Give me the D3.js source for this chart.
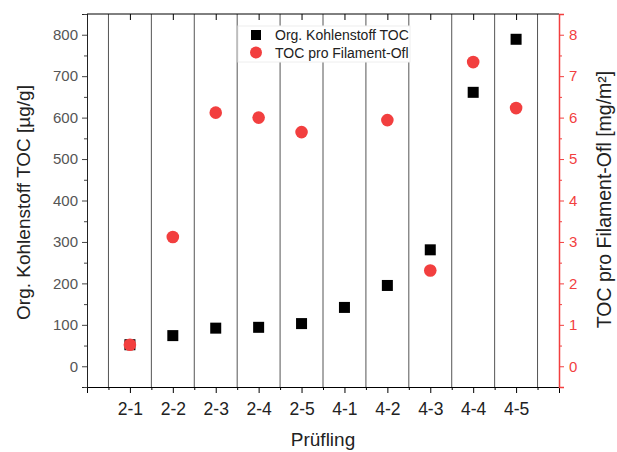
<!DOCTYPE html>
<html>
<head>
<meta charset="utf-8">
<script src="https://cdn.jsdelivr.net/npm/d3@7"></script>
<style>
body { margin: 0; background: #fff; }
svg { font-family: Arial, "Liberation Sans", sans-serif; }
</style>
</head>
<body>
<script>
(function(){

// categories and values
var samples = ["2-1", "2-2", "2-3", "2-4", "2-5", "4-1", "4-2", "4-3", "4-4", "4-5"];
var tocValues = [52, 74, 92, 94, 103, 142, 195, 281, 661, 789];          // µg/g
var surfaceValues = [0.52, 3.12, 6.12, 6.0, 5.65, null, 5.94, 2.31, 7.34, 6.23]; // mg/m²
var leftTicks = [0, 100, 200, 300, 400, 500, 600, 700, 800];
var rightTicks = [0, 1, 2, 3, 4, 5, 6, 7, 8];

var width = 617, height = 452;
var left = 87, right = 559, top = 14, bottom = 387;
var red = "#f23f3f";

var svg = d3.select("body").append("svg")
    .attr("width", width)
    .attr("height", height);

// scales
var x = d3.scaleLinear().domain([0, 11]).range([left, right]);
var yL = d3.scaleLinear().domain([-50, 850]).range([bottom, top]);
var yR = d3.scaleLinear().domain([-0.5, 8.5]).range([bottom, top]);

// vertical separators between samples
svg.append("g").selectAll("line")
    .data(d3.range(0.5, 11, 1))
    .enter().append("line")
    .attr("x1", function(d){ return x(d); })
    .attr("x2", function(d){ return x(d); })
    .attr("y1", top)
    .attr("y2", bottom)
    .attr("stroke", "#555")
    .attr("stroke-width", 1);

// bottom axis
var xAxis = d3.axisBottom(x)
    .tickValues(d3.range(0, 12, 1))
    .tickSize(6)
    .tickFormat(function(d){ return (d >= 1 && d <= 10) ? samples[d - 1] : ""; });
var gx = svg.append("g")
    .attr("transform", "translate(0," + bottom + ")")
    .call(xAxis);
gx.select(".domain").attr("stroke", "#000");
gx.selectAll(".tick line").attr("stroke", "#000");
gx.selectAll("text").attr("font-size", 17.5).attr("fill", "#222").attr("dy", "1.1em");
// minor ticks bottom
svg.append("g")
    .attr("transform", "translate(0," + bottom + ")")
    .call(d3.axisBottom(x).tickValues(d3.range(0.5, 11, 1)).tickSize(3).tickFormat(""))
    .call(function(g){ g.select(".domain").remove(); });

// top border with inward ticks
var gt = svg.append("g")
    .attr("transform", "translate(0," + top + ")")
    .call(d3.axisBottom(x).tickValues(d3.range(0, 12, 1)).tickSize(6).tickFormat(""));
gt.select(".domain").remove();
svg.append("line")
    .attr("x1", left).attr("x2", right)
    .attr("y1", top).attr("y2", top)
    .attr("stroke", "#000");

// left axis
var gl = svg.append("g")
    .attr("transform", "translate(" + left + ",0)")
    .call(d3.axisLeft(yL).tickValues(leftTicks).tickSize(5).tickPadding(4));
gl.select(".domain").attr("stroke", "#222");
gl.selectAll(".tick line").attr("stroke", "#444");
gl.selectAll("text").attr("font-size", 15).attr("fill", "#555");
svg.append("g")
    .attr("transform", "translate(" + left + ",0)")
    .call(d3.axisLeft(yL).tickValues(d3.range(-50, 851, 100)).tickSize(3).tickFormat(""))
    .call(function(g){ g.select(".domain").remove(); g.selectAll("line").attr("stroke", "#444"); });

// right axis (red)
var gr = svg.append("g")
    .attr("transform", "translate(" + right + ",0)")
    .call(d3.axisRight(yR).tickValues(rightTicks).tickSize(5).tickPadding(5));
gr.select(".domain").attr("stroke", red).attr("stroke-width", 1.5);
gr.selectAll(".tick line").attr("stroke", red);
gr.selectAll("text").attr("font-size", 15).attr("fill", red);
svg.append("g")
    .attr("transform", "translate(" + right + ",0)")
    .call(d3.axisRight(yR).tickValues(d3.range(-0.5, 8.6, 1)).tickSize(3).tickFormat(""))
    .call(function(g){ g.select(".domain").remove(); g.selectAll("line").attr("stroke", red); });

// axis titles
svg.append("text")
    .attr("transform", "translate(30," + ((top + bottom) / 2 + 2) + ") rotate(-90)")
    .attr("text-anchor", "middle")
    .attr("font-size", 19)
    .attr("fill", "#222")
    .text("Org. Kohlenstoff TOC [µg/g]");
svg.append("text")
    .attr("transform", "translate(611," + ((top + bottom) / 2 - 1) + ") rotate(-90)")
    .attr("text-anchor", "middle")
    .attr("font-size", 19.5)
    .attr("fill", "#222")
    .text("TOC pro Filament-Ofl [mg/m²]");
svg.append("text")
    .attr("x", x(5.5))
    .attr("y", 446)
    .attr("text-anchor", "middle")
    .attr("font-size", 19)
    .attr("fill", "#222")
    .text("Prüfling");

// black squares
var sq = 11;
svg.append("g").selectAll("rect")
    .data(tocValues)
    .enter().append("rect")
    .attr("x", function(d, i){ return x(i + 1) - sq / 2; })
    .attr("y", function(d){ return yL(d) - sq / 2; })
    .attr("width", sq)
    .attr("height", sq)
    .attr("fill", "#000");

// red circles (drawn on top)
svg.append("g").selectAll("circle")
    .data(surfaceValues.map(function(v, i){ return {i: i, v: v}; }).filter(function(d){ return d.v !== null; }))
    .enter().append("circle")
    .attr("cx", function(d){ return x(d.i + 1); })
    .attr("cy", function(d){ return yR(d.v); })
    .attr("r", 6.3)
    .attr("fill", red);

// legend
var legend = svg.append("g");
legend.append("rect")
    .attr("x", 238).attr("y", 26)
    .attr("width", 172).attr("height", 36)
    .attr("fill", "#fff")
    .attr("stroke", "#eee");
legend.append("rect")
    .attr("x", 251).attr("y", 30)
    .attr("width", 10).attr("height", 10)
    .attr("fill", "#000");
legend.append("circle")
    .attr("cx", 256).attr("cy", 52.5)
    .attr("r", 6)
    .attr("fill", red);
legend.append("text")
    .attr("x", 275).attr("y", 40)
    .attr("font-size", 14)
    .attr("fill", "#222")
    .text("Org. Kohlenstoff TOC");
legend.append("text")
    .attr("x", 275).attr("y", 57.5)
    .attr("font-size", 14)
    .attr("fill", "#222")
    .text("TOC pro Filament-Ofl");

})();
</script>
</body>
</html>
